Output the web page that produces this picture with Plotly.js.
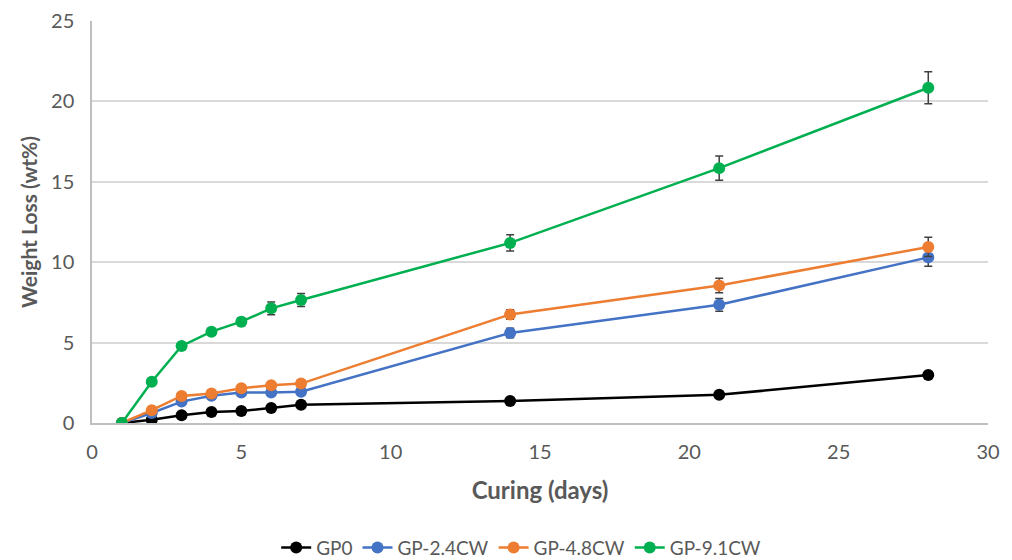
<!DOCTYPE html>
<html><head><meta charset="utf-8">
<script src="https://cdn.plot.ly/plotly-3.0.1.min.js"></script>
<style>html,body{margin:0;padding:0;background:#fff}#c{width:1012px;height:560px}</style>
</head><body><div id="c"></div>
<script>
const days = [1, 2, 3, 4, 5, 6, 7, 14, 21, 28];
const gp0 = [0, 0.2, 0.48, 0.68, 0.75, 0.93, 1.13, 1.37, 1.75, 2.98];
const gp24 = [0, 0.62, 1.33, 1.7, 1.9, 1.9, 1.95, 5.6, 7.35, 10.3];
const gp48 = [0, 0.8, 1.68, 1.84, 2.16, 2.35, 2.45, 6.75, 8.55, 10.95];
const gp91 = [0, 2.57, 4.79, 5.68, 6.3, 7.13, 7.65, 11.2, 15.85, 20.85];
const err0 = [0, 0, 0, 0, 0, 0, 0, 0, 0, 0];
const err24 = [0, 0.05, 0.1, 0.1, 0.1, 0.1, 0.1, 0.3, 0.4, 0.55];
const err48 = [0, 0.05, 0.1, 0.1, 0.1, 0.1, 0.1, 0.3, 0.45, 0.6];
const err91 = [0, 0.1, 0.15, 0.2, 0.25, 0.4, 0.4, 0.5, 0.75, 1.0];
const names = ["GP0", "GP-2.4CW", "GP-4.8CW", "GP-9.1CW"];
const colors = ["#000000", "#4472C4", "#ED7D31", "#00B050"];
const ys = [gp0, gp24, gp48, gp91];
const errs = [err0, err24, err48, err91];

const traces = ys.map((y, i) => ({
  x: days, y: y, name: names[i], type: "scatter", mode: "lines+markers",
  line: {color: colors[i], width: 2.5},
  marker: {color: colors[i], size: 12},
  error_y: {type: "data", array: errs[i], visible: true, color: "#404040", thickness: 1.5, width: 4}
}));

const font = "Lato, 'Open Sans', 'Noto Sans', sans-serif";
Plotly.newPlot("c", traces, {
  width: 1012, height: 560,
  margin: {l: 92, r: 24, t: 21, b: 137},
  paper_bgcolor: "#fff", plot_bgcolor: "#fff",
  font: {family: font, color: "#595959", size: 19},
  showlegend: true,
  legend: {orientation: "h", x: 0.515, xanchor: "center", xref: "container", y: 0.022, yref: "container", yanchor: "middle", font: {size: 19, color: "#595959"}},
  xaxis: {
    range: [0, 30], tickvals: [0, 5, 10, 15, 20, 25, 30], showgrid: false, zeroline: false,
    showline: true, linecolor: "#bfbfbf", linewidth: 1.5, ticks: "", ticklen: 0, automargin: false,
    ticklabelstandoff: 10,
    title: {text: "<b>Curing (days)</b>", font: {size: 24, color: "#595959"}, standoff: 20},
    tickfont: {size: 20, color: "#595959"}
  },
  yaxis: {
    range: [0, 25], tickvals: [0, 5, 10, 15, 20, 25], showgrid: true, gridcolor: "#d9d9d9", gridwidth: 1.5,
    zeroline: false, showline: true, linecolor: "#bfbfbf", linewidth: 1.5, ticks: "", automargin: false,
    ticklabelstandoff: 12,
    title: {text: "<b>Weight Loss (wt%)</b>", font: {size: 21, color: "#595959"}, standoff: 8},
    tickfont: {size: 20, color: "#595959"}
  }
}, {displayModeBar: false});
</script></body></html>
